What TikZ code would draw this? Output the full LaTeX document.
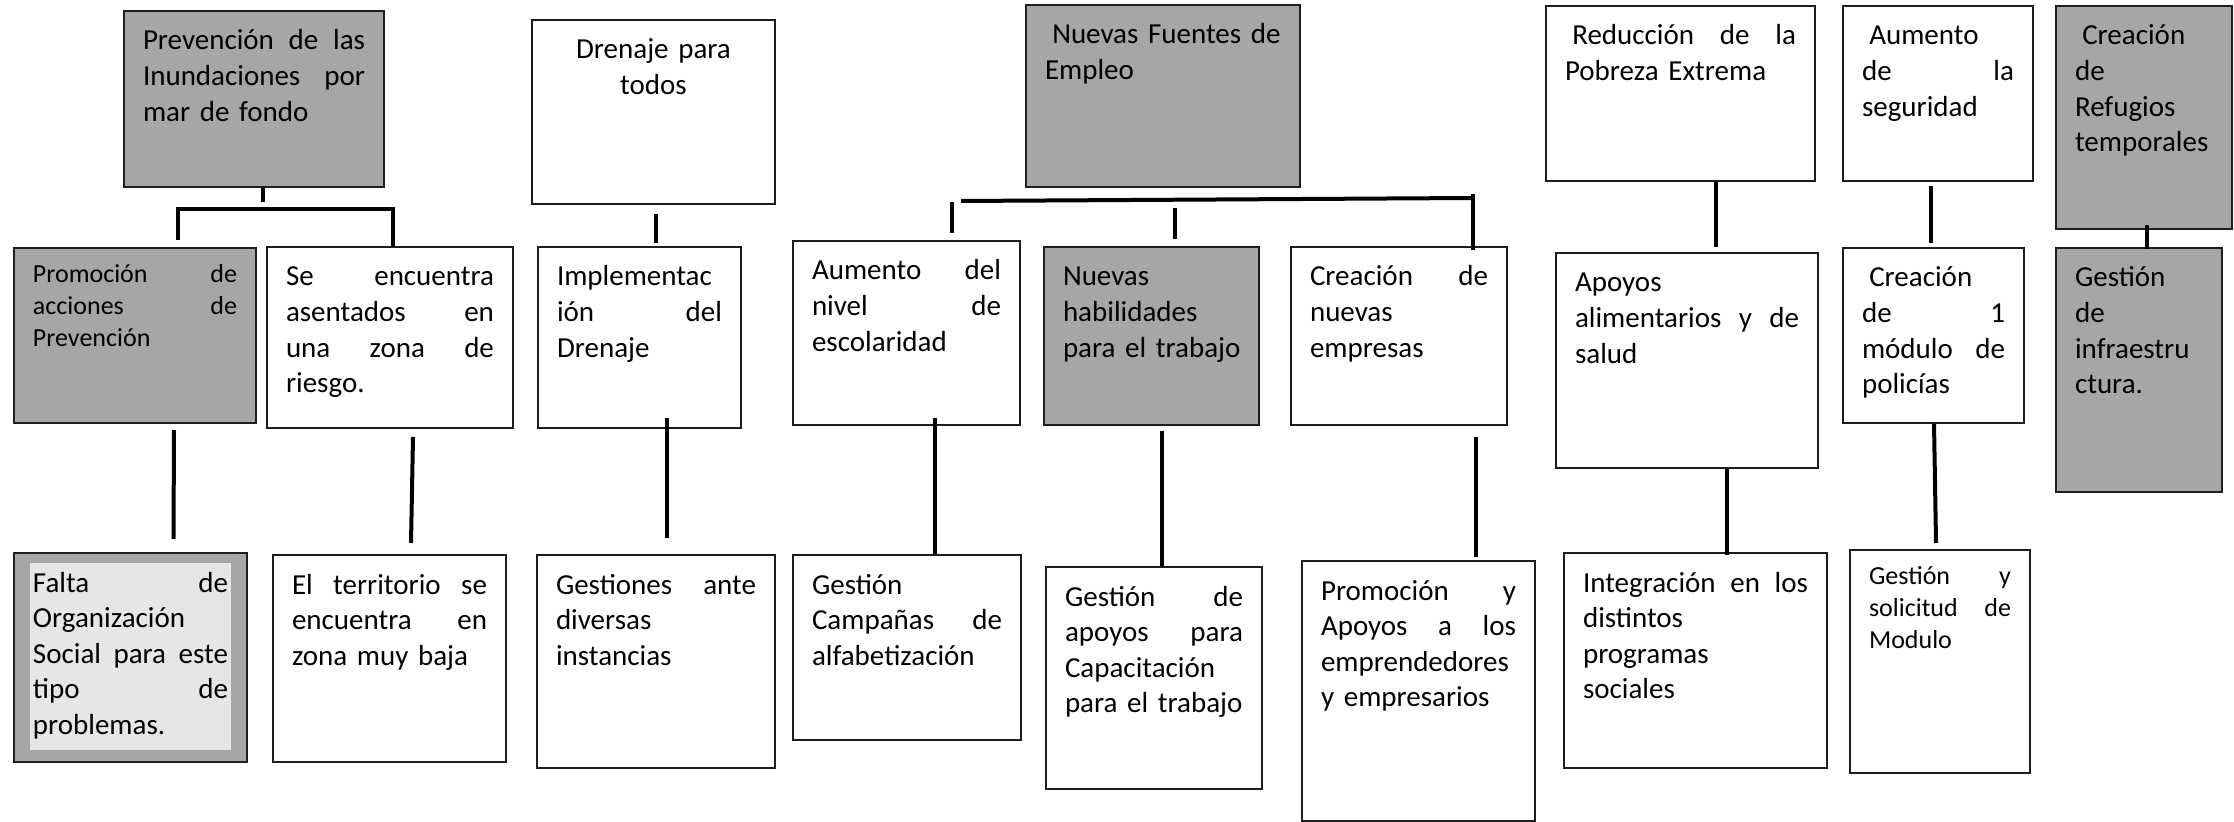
\documentclass[tikz,border=0pt]{standalone}
\usepackage{fontspec}
\setmainfont{Carlito}
\usetikzlibrary{calc}
\definecolor{grisoscuro}{HTML}{A6A6A6}
\definecolor{grisclaro}{HTML}{E7E6E6}
\definecolor{borde}{HTML}{1E1E1E}
\tikzset{
  caja/.style={draw=borde, line width=0.5pt, anchor=north west, align=left,
    inner xsep=4.75pt, inner ysep=3.5pt, text height=6.25pt,
    font=\fontsize{7.25pt}{8.9pt}\selectfont},
  cajagris/.style={caja, fill=grisoscuro},
  chica/.style={font=\fontsize{6.5pt}{8pt}\selectfont, text height=5.25pt},
  conector/.style={line width=1pt}
}
\begin{document}
\begin{tikzpicture}[x=0.25pt, y=-0.25pt]
\useasboundingbox (0,0) rectangle (2234,822);

\node[cajagris, text width=55.5pt, text depth=30.75pt] (prev) at (123,10)
  {Prevención \hfill de \hfill las\\ Inundaciones \hfill por\\ mar de fondo};
\node[caja, align=center, text width=51.25pt, text depth=32.75pt] (dren) at (531,19)
  {Drenaje para\\ todos};
\node[cajagris, text width=59pt, text depth=32.25pt] (nfe) at (1025,4)
  {\hspace*{.25em}Nuevas Fuentes de\\ Empleo};
\node[caja, text width=57.75pt, text depth=30.5pt] (red) at (1545,5)
  {\hspace*{.25em}Reducción \hfill de \hfill la\\ Pobreza Extrema};
\node[caja, text width=38pt, text depth=30.5pt] (aseg) at (1842,5)
  {\hspace*{.25em}Aumento\\ de \hfill la\\ seguridad};
\node[cajagris, text width=34.5pt, text depth=42.5pt] (refu) at (2055,5)
  {\hspace*{.25em}Creación\\ de\\ Refugios\\ temporales};

\node[cajagris, chica, text width=51pt, text depth=31.5pt] (pacc) at (13,247)
  {Promoción \hfill de\\ acciones \hfill de\\ Prevención};
\node[caja, text width=52pt, text depth=32pt] (senc) at (266,246)
  {Se \hfill encuentra\\ asentados \hfill en\\ una \hfill zona \hfill de\\ riesgo.};
\node[caja, text width=41.25pt, text depth=32pt] (impl) at (537,246)
  {Implementac\\ ión \hfill del\\ Drenaje};
\node[caja, text width=47.25pt, text depth=32.75pt] (aniv) at (792,240)
  {Aumento \hfill del\\ nivel \hfill de\\ escolaridad};
\node[cajagris, text width=44.25pt, text depth=31.25pt] (nhab) at (1043,246)
  {Nuevas\\ habilidades\\ \mbox{para el trabajo}};
\node[caja, text width=44.5pt, text depth=31.25pt] (cemp) at (1290,246)
  {Creación \hfill de\\ nuevas\\ empresas};
\node[caja, text width=56pt, text depth=40.5pt] (apal) at (1555,252)
  {Apoyos\\ alimentarios \hfill y \hfill de\\ salud};
\node[caja, text width=35.75pt, text depth=30.5pt] (cmod) at (1842,247)
  {\hspace*{.25em}Creación\\ de \hfill 1\\ módulo \hfill de\\ policías};
\node[cajagris, text width=32pt, text depth=47.75pt] (ginf) at (2055,247)
  {Gestión\\ de\\ infraestru\\ ctura.};

\node[cajagris, text width=48.75pt, text depth=39pt,
  path picture={\fill[grisclaro] ([xshift=4pt,yshift=-2.5pt]path picture bounding box.north west)
    rectangle ([xshift=-4pt,yshift=3pt]path picture bounding box.south east);}] (falta) at (13,552)
  {Falta \hfill de\\ Organización\\ Social \hfill para \hfill este\\ tipo \hfill de\\ problemas.};
\node[caja, text width=48.75pt, text depth=38.5pt] (terr) at (272,554)
  {El \hfill territorio \hfill se\\ encuentra \hfill en\\ zona muy baja};
\node[caja, text width=50pt, text depth=40pt] (gest) at (536,554)
  {Gestiones \hfill ante\\ diversas\\ instancias};
\node[caja, text width=47.5pt, text depth=33pt] (gcam) at (792,554)
  {Gestión\\ Campañas \hfill de\\ alfabetización};
\node[caja, text width=44.5pt, text depth=42.25pt] (gapo) at (1045,566)
  {Gestión \hfill de\\ apoyos \hfill para\\ Capacitación\\ \mbox{para el trabajo}};
\node[caja, text width=48.75pt, text depth=51.75pt] (pyap) at (1301,560)
  {Promoción \hfill y\\ Apoyos \hfill a \hfill los\\ emprendedores\\ y empresarios};
\node[caja, text width=56.25pt, text depth=40.5pt] (integ) at (1563,552)
  {Integración \hfill en \hfill los\\ distintos\\ programas\\ sociales};
\node[caja, chica, text height=5pt, text width=35.5pt, text depth=43.75pt] (gsol) at (1849,549)
  {Gestión \hfill y\\ solicitud \hfill de\\ Modulo};

\draw[conector] ($(prev.south)+(9,0)$) -- ($(prev.south)+(9,14)$);
\draw[conector] ($(pacc.north)+(43,-7)$) |- ($(senc.north)+(3,-37)$) -- ($(senc.north)+(3,1)$);
\draw[conector] ($(pacc.south)+(39,6)$) -- ($(falta.north)+(43,-13)$);
\draw[conector] ($(senc.south)+(23,8)$) -- ($(terr.north)+(21.5,-11)$);

\draw[conector] ($(dren.south)+(2.5,9)$) -- ($(impl.north)+(16.5,-3)$);
\draw[conector] ($(impl.south)+(27.5,-11)$) -- ($(gest.north)+(11,-16)$);

\draw[conector] ($(aniv.north)+(54.5,-39)$) -- ($(cemp.north)+(74,-48)$);
\draw[conector] ($(aniv.north)+(45.5,-38)$) -- ($(aniv.north)+(45.5,-7)$);
\draw[conector] ($(nhab.north)+(23.5,-38)$) -- ($(nhab.north)+(23.5,-7)$);
\draw[conector] ($(cemp.north)+(74,-52)$) -- ($(cemp.north)+(74,4)$);
\draw[conector] ($(aniv.south)+(28.5,-8)$) -- ($(gcam.north)+(28,0)$);
\draw[conector] ($(nhab.south)+(10.5,5)$) -- ($(gapo.north)+(8,0)$);
\draw[conector] ($(cemp.south)+(77,11)$) -- ($(pyap.north)+(57.5,-3)$);

\draw[conector] ($(red.south)+(35.5,0)$) -- ($(apal.north)+(29,-5)$);
\draw[conector] ($(apal.south)+(40,0)$) -- ($(integ.north)+(31.5,3)$);

\draw[conector] ($(aseg.south)+(-7,4)$) -- ($(cmod.north)+(-2.5,-4)$);
\draw[conector] ($(cmod.south)+(0.5,0)$) -- ($(gsol.north)+(-4,-6)$);

\draw[conector] ($(refu.south)+(3,-5)$) -- ($(ginf.north)+(8,2)$);

\end{tikzpicture}
\end{document}
